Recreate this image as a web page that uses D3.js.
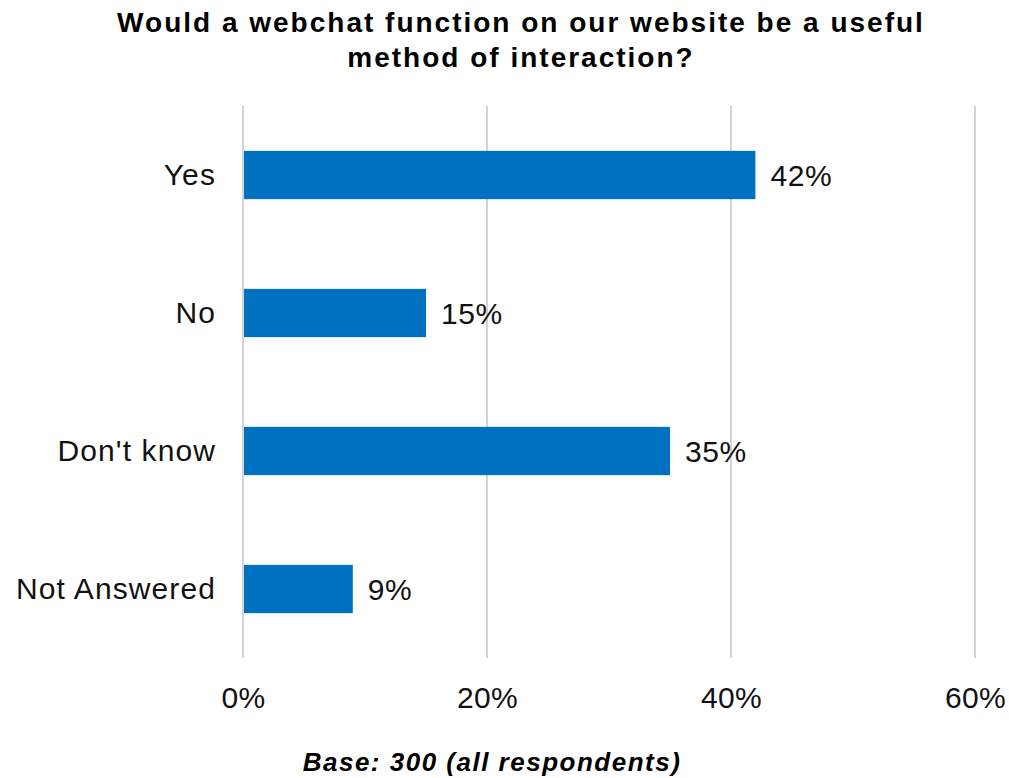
<!DOCTYPE html>
<html>
<head>
<meta charset="utf-8">
<script src="https://cdn.jsdelivr.net/npm/d3@7"></script>
<style>
  html, body { margin: 0; padding: 0; background: #fff; }
  svg { display: block; font-family: "Liberation Sans", Arial, sans-serif; }
</style>
</head>
<body>
<svg id="chart" width="1009" height="778"></svg>
<script>
// Survey responses
const categories = ["Yes", "No", "Don't know", "Not Answered"];
const values = [42, 15, 35, 9];
const tickValues = [0, 20, 40, 60];
const titleLines = ["Would a webchat function on our website be a useful", "method of interaction?"];
const footnote = "Base: 300 (all respondents)";

const svg = d3.select("#chart");
const plot = { left: 243, right: 975, top: 106, bottom: 658 };

const x = d3.scaleLinear().domain([0, 60]).range([plot.left, plot.right]);
const y = d3.scaleBand().domain(categories).range([plot.top, plot.bottom]).paddingInner(0.65).paddingOuter(0.325);

// Vertical gridlines
svg.append("g")
  .selectAll("line")
  .data(tickValues)
  .join("line")
  .attr("x1", d => x(d)).attr("x2", d => x(d))
  .attr("y1", plot.top).attr("y2", plot.bottom)
  .attr("stroke", "#d4d4d4")
  .attr("stroke-width", 2);

// Percentage axis labels
const xAxis = d3.axisBottom(x).tickValues(tickValues).tickFormat(d => d + "%").tickSize(0).tickPadding(0);
const gx = svg.append("g").attr("transform", `translate(0, 708)`).call(xAxis);
gx.select(".domain").remove();
gx.selectAll("text").attr("font-size", 30).attr("fill", "#111").attr("dy", 0)
  .attr("letter-spacing", 0.3)
  .attr("font-family", "Liberation Sans, Arial, sans-serif");

// Category labels
const yAxis = d3.axisLeft(y).tickSize(0).tickPadding(27);
const gy = svg.append("g").attr("transform", `translate(${plot.left}, 0)`).call(yAxis);
gy.select(".domain").remove();
gy.selectAll("text").attr("font-size", 30).attr("fill", "#111")
  .attr("letter-spacing", 1.1)
  .attr("font-family", "Liberation Sans, Arial, sans-serif");

// Bars
svg.append("g")
  .selectAll("rect")
  .data(categories)
  .join("rect")
  .attr("x", x(0) + 1)
  .attr("y", d => y(d))
  .attr("width", (d, i) => x(values[i]) - x(0) - 1)
  .attr("height", y.bandwidth())
  .attr("fill", "#0070C0");

// Value labels
svg.append("g")
  .selectAll("text")
  .data(categories)
  .join("text")
  .attr("x", (d, i) => x(values[i]) + 15)
  .attr("y", d => y(d) + y.bandwidth() / 2)
  .attr("dy", "0.35em")
  .attr("font-size", 30)
  .attr("letter-spacing", 0.6)
  .attr("fill", "#111")
  .text((d, i) => values[i] + "%");

// Title
svg.append("text")
  .attr("x", 520)
  .attr("y", 32)
  .attr("text-anchor", "middle")
  .attr("font-size", 28)
  .attr("font-weight", "bold")
  .attr("letter-spacing", 2)
  .attr("fill", "#000")
  .selectAll("tspan")
  .data(titleLines)
  .join("tspan")
  .attr("x", 521)
  .attr("dy", (d, i) => i === 0 ? 0 : 35)
  .text(d => d);

// Footnote
svg.append("text")
  .attr("x", 492)
  .attr("y", 771)
  .attr("text-anchor", "middle")
  .attr("font-size", 26)
  .attr("font-weight", "bold")
  .attr("font-style", "italic")
  .attr("letter-spacing", 1.5)
  .attr("fill", "#000")
  .text(footnote);
</script>
</body>
</html>
